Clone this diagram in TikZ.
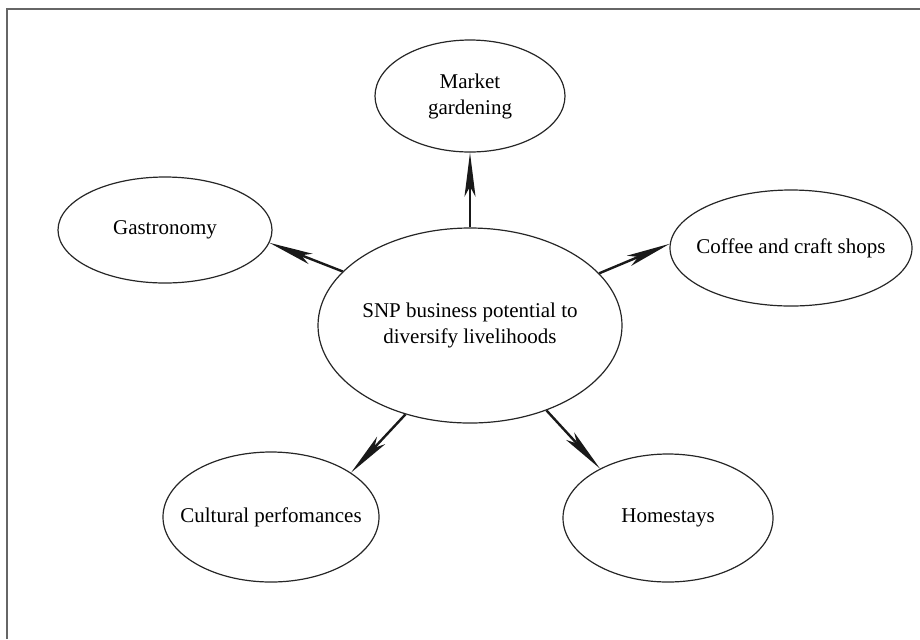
\documentclass[tikz,border=0pt]{standalone}
\usepackage{fontspec}
\setmainfont{Liberation Serif}
\usetikzlibrary{shapes.geometric,arrows.meta,positioning}

\tikzset{
  bubble/.style={ellipse, draw=black!85, line width=0.6pt, inner sep=0pt},
  bubbletext/.style={align=center, inner sep=0pt},
  arrow/.style={-{Stealth[length=22pt,width=5.5pt,inset=5pt]}, line width=1.2pt, black!90},
}

\begin{document}
\begin{tikzpicture}[x=0.5pt,y=-0.5pt,font=\fontsize{10.5}{13}\selectfont]
\useasboundingbox (0,0) rectangle (920,639);
% frame
\draw[line width=0.8pt, black!60] (7,639) |- (920,9);

% hub
\node[bubble, minimum width=152pt, minimum height=97.5pt,
  label={[bubbletext]center:SNP business potential to\\diversify livelihoods}] (snp) at (470,325.5) {};

% outer ideas
\node[bubble, minimum width=95pt, minimum height=56pt,
  label={[bubbletext]center:Market\\gardening}] (market) at (470,96) {};
\node[bubble, minimum width=107pt, minimum height=53pt,
  label={[bubbletext]center:Gastronomy}] (gastro) at (165,230) {};
\node[bubble, minimum width=121pt, minimum height=58pt,
  label={[bubbletext]center:Coffee and craft shops}] (coffee) at (791,248) {};
\node[bubble, minimum width=108pt, minimum height=65pt,
  label={[bubbletext]center:Cultural perfomances}] (cultural) at (271,517) {};
\node[bubble, minimum width=105pt, minimum height=64pt,
  label={[bubbletext]center:Homestays}] (home) at (668,518) {};

\draw[arrow] (snp.north) -- (market.south);
\draw[arrow] (snp.157.6) -- (gastro.353);
\draw[arrow] (snp.22.5) -- (coffee.178);
\draw[arrow] (snp.234.2) -- (cultural.29.2);
\draw[arrow] (snp.312.8) -- (home.144.5);

\end{tikzpicture}
\end{document}
